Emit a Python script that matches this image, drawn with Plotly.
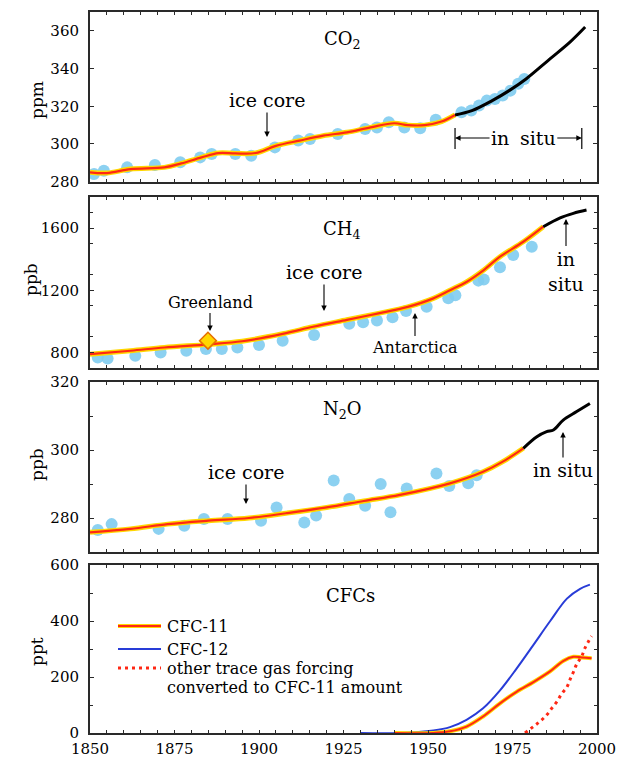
import plotly.graph_objects as go

# ---------------- data ----------------
# CO2 (ppm)
co2_core_year = [1851.2, 1854.1, 1861.0, 1869.2, 1876.7, 1882.6, 1886.0, 1893.0, 1897.7, 1904.7,
                 1911.6, 1915.1, 1923.3, 1931.4, 1934.9, 1938.4, 1943.0, 1947.7, 1952.3, 1959.9,
                 1962.8, 1965.1, 1967.4, 1969.8, 1972.1, 1974.4, 1976.7, 1978.5]
co2_core_ppm = [284.1, 285.8, 287.6, 288.8, 290.3, 292.9, 294.7, 294.7, 293.8, 298.2,
                301.8, 302.7, 305.3, 308.0, 308.8, 311.5, 308.8, 308.3, 312.9, 316.8,
                317.7, 320.4, 323.0, 323.9, 325.7, 328.3, 331.9, 334.5]
co2_fit_year = [1850, 1855, 1862, 1872, 1877, 1883, 1888, 1893, 1899, 1905, 1912, 1919, 1926,
                1933, 1940, 1944, 1949, 1954, 1958]
co2_fit_ppm = [285.0, 284.6, 286.7, 287.6, 289.7, 292.9, 295.2, 295.0, 295.2, 299.0, 301.8,
               304.4, 306.2, 308.8, 311.0, 310.0, 310.0, 311.9, 315.4]
co2_insitu_year = [1958, 1963, 1969, 1974, 1979, 1986, 1992, 1996.5]
co2_insitu_ppm = [315.4, 317.7, 323.0, 328.3, 334.5, 345.0, 354.0, 362.0]
insitu_span = [1958, 1995.5]

# CH4 (ppb)
ch4_core_year = [1852.3, 1855.2, 1863.4, 1870.9, 1878.5, 1884.3, 1889.0, 1893.6, 1900.0, 1907.0,
                 1916.3, 1926.7, 1930.8, 1934.9, 1939.5, 1943.5, 1949.6, 1956.0, 1958.1, 1964.9,
                 1966.5, 1971.3, 1975.2, 1980.7]
ch4_core_ppb = [768, 761, 778, 800, 811, 822, 822, 832, 848, 876,
                912, 984, 995, 1005, 1027, 1066, 1094, 1148, 1168, 1262,
                1270, 1348, 1427, 1480]
ch4_fit_year = [1850, 1862, 1872, 1885, 1895, 1907, 1916, 1926, 1935, 1944, 1951.6, 1956.5,
                1961.5, 1966.5, 1971.3, 1978.2, 1984.1]
ch4_fit_ppb = [789, 811, 832, 852, 872, 920, 965, 1010, 1050, 1093, 1148, 1200, 1255, 1330,
               1416, 1512, 1609]
ch4_insitu_year = [1984.1, 1989.1, 1993.0, 1996.9]
ch4_insitu_ppb = [1609, 1666, 1695, 1716]
greenland_year = [1884.9]
greenland_ppb = [876]

# N2O (ppb)
n2o_core_year = [1852.3, 1856.4, 1870.3, 1877.9, 1883.7, 1890.7, 1900.6, 1905.2, 1913.4, 1916.9,
                 1922.1, 1926.7, 1931.4, 1936.0, 1938.9, 1943.7, 1952.5, 1956.3, 1961.9, 1964.4]
n2o_core_ppb = [276.5, 278.2, 276.8, 277.7, 279.7, 279.7, 279.2, 283.1, 278.7, 280.7,
                291.0, 285.6, 283.6, 290.0, 281.7, 288.7, 293.1, 289.4, 290.2, 292.6]
n2o_fit_year = [1850, 1862, 1873, 1885, 1897, 1908, 1920, 1931, 1941.7, 1956.5, 1966.3, 1972,
                1978.2]
n2o_fit_ppb = [275.8, 276.8, 278.2, 279.2, 280.0, 281.4, 283.1, 285.0, 286.8, 290.2, 293.6,
               296.5, 300.5]
n2o_insitu_year = [1978.2, 1982.2, 1985.1, 1987.1, 1990.0, 1994.0, 1997.9]
n2o_insitu_ppb = [300.5, 303.9, 305.4, 305.9, 308.8, 311.3, 313.7]

# CFCs (ppt)
cfc12_year = [1930, 1941.7, 1951.6, 1956.5, 1961.4, 1966.3, 1971.3, 1976.2, 1981.2, 1986.1,
              1991.1, 1995.0, 1997.9]
cfc12_ppt = [0, 0, 9, 21, 47, 88, 152, 230, 315, 399, 480, 515, 530]
cfc11_year = [1940, 1951.6, 1956.5, 1961.4, 1966.3, 1971.3, 1976.2, 1981.2, 1986.1, 1990.1,
              1993.0, 1995.5, 1998.4]
cfc11_ppt = [0, 0, 6, 23, 59, 106, 147, 182, 220, 258, 272, 270, 267]
other_year = [1978.7, 1981.2, 1983.1, 1985.1, 1986.6, 1988.1, 1989.6, 1991.1, 1992.1, 1993.0,
              1994.0, 1995.5, 1996.5, 1998.4]
other_ppt = [0, 23, 41, 64, 88, 111, 141, 164, 193, 217, 246, 275, 305, 346]

year_ticks = list(range(1850, 2001, 5))
year_labels = [str(y) if y % 25 == 0 else "" for y in year_ticks]

# ---------------- styling ----------------
FONT = "DejaVu Serif"
DOT = "rgb(128,204,240)"
RED = "rgb(255,40,20)"
HALO = "rgb(255,215,0)"
BLUE = "rgb(40,60,215)"
W, H = 617, 759
ML, MR, MT, MB = 90, 20, 12, 26
PW, PH = W - ML - MR, H - MT - MB


def px(x):
    return (x - ML) / PW


def py(y):
    return (H - MB - y) / PH


fig = go.Figure()


def dots(x, y, ax):
    fig.add_trace(go.Scatter(x=x, y=y, mode="markers", xaxis=ax[0], yaxis=ax[1],
                             marker=dict(size=12, color=DOT, opacity=0.9),
                             showlegend=False, hoverinfo="skip"))


def red_line(x, y, ax, halo=5, core=2.2):
    fig.add_trace(go.Scatter(x=x, y=y, mode="lines", xaxis=ax[0], yaxis=ax[1],
                             line=dict(color=HALO, width=halo, shape="spline"),
                             showlegend=False, hoverinfo="skip"))
    fig.add_trace(go.Scatter(x=x, y=y, mode="lines", xaxis=ax[0], yaxis=ax[1],
                             line=dict(color=RED, width=core, shape="spline"),
                             showlegend=False, hoverinfo="skip"))


def black_line(x, y, ax):
    fig.add_trace(go.Scatter(x=x, y=y, mode="lines", xaxis=ax[0], yaxis=ax[1],
                             line=dict(color="black", width=3, shape="spline"),
                             showlegend=False, hoverinfo="skip"))


A1, A2, A3, A4 = ("x", "y"), ("x2", "y2"), ("x3", "y3"), ("x4", "y4")

# CO2 panel
dots(co2_core_year, co2_core_ppm, A1)
red_line(co2_fit_year, co2_fit_ppm, A1)
black_line(co2_insitu_year, co2_insitu_ppm, A1)

# CH4 panel
dots(ch4_core_year, ch4_core_ppb, A2)
red_line(ch4_fit_year, ch4_fit_ppb, A2)
black_line(ch4_insitu_year, ch4_insitu_ppb, A2)
fig.add_trace(go.Scatter(x=greenland_year, y=greenland_ppb, mode="markers", xaxis="x2", yaxis="y2",
                         marker=dict(symbol="diamond", size=13, color="rgb(255,215,0)",
                                     line=dict(color="rgb(230,110,0)", width=1.5)),
                         showlegend=False, hoverinfo="skip"))

# N2O panel
dots(n2o_core_year, n2o_core_ppb, A3)
red_line(n2o_fit_year, n2o_fit_ppb, A3)
black_line(n2o_insitu_year, n2o_insitu_ppb, A3)

# CFC panel
fig.add_trace(go.Scatter(x=cfc12_year, y=cfc12_ppt, mode="lines", xaxis="x4", yaxis="y4",
                         line=dict(color=BLUE, width=2, shape="spline"),
                         showlegend=False, hoverinfo="skip"))
red_line(cfc11_year, cfc11_ppt, A4, halo=4, core=2)
fig.add_trace(go.Scatter(x=other_year, y=other_ppt, mode="lines", xaxis="x4", yaxis="y4",
                         line=dict(color=RED, width=3, shape="spline", dash="3px,4px"),
                         showlegend=False, hoverinfo="skip"))

# ---------------- axes ----------------
domains = [[py(181.7), 1.0], [py(368), py(197)], [py(552), py(382)], [0.0, py(565)]]
ranges = [[280, 370], [700, 1800], [270, 320], [0, 600]]
ytickvals = [[280, 300, 320, 340, 360], [800, 1200, 1600], [280, 300, 320], [0, 200, 400, 600]]
yminor = [20, 200, 10, 100]

layout = dict(
    width=W, height=H, margin=dict(l=ML, r=MR, t=MT, b=MB, autoexpand=False),
    paper_bgcolor="white", plot_bgcolor="white",
    font=dict(family=FONT, size=15, color="black"),
    showlegend=False,
)
axis_line = dict(showline=True, linewidth=2, linecolor="#2a2a2a", mirror="ticks",
                 ticks="inside", tickcolor="#2a2a2a", showgrid=False, zeroline=False,
                 automargin=False)
for i in range(4):
    s = "" if i == 0 else str(i + 1)
    layout["xaxis" + s] = dict(
        axis_line, domain=[0, 1], range=[1850, 2000], anchor="y" + s,
        tickvals=year_ticks, ticktext=year_labels, ticklen=3, tickwidth=1,
        showticklabels=(i == 3), tickfont=dict(size=15), ticklabelstandoff=1,
        ticklabeloverflow="allow",
    )
    layout["yaxis" + s] = dict(
        axis_line, domain=domains[i], range=ranges[i], anchor="x" + s,
        tickvals=ytickvals[i], ticklen=4, tickwidth=1, tickfont=dict(size=15),
        ticklabelstandoff=6,
        minor=dict(dtick=yminor[i], tick0=ranges[i][0], ticks="inside", ticklen=3,
                   tickwidth=1, tickcolor="#2a2a2a", showgrid=False),
    )
fig.update_layout(**layout)

# ---------------- labels ----------------
ann = []


def text(t, x, y, size=19, xanchor="center", angle=0):
    ann.append(dict(text=t, x=px(x), y=py(y), xref="paper", yref="paper", showarrow=False,
                    xanchor=xanchor, yanchor="middle", textangle=angle,
                    font=dict(family=FONT, size=size, color="black")))


def pointer(t, xtip, ytip, dx, dy, size=19, xref="paper"):
    # label placed at (tip + offset) with an arrow running from the label to the tip
    ann.append(dict(text=t, x=(xtip if xref == "x" else px(xtip)), y=py(ytip),
                    xref=xref, yref="paper", showarrow=True, ax=dx, ay=dy,
                    arrowhead=2, arrowsize=1, arrowwidth=1.1, arrowcolor="black",
                    font=dict(family=FONT, size=size, color="black")))


# axis titles
text("ppm", 37, 100, 17, angle=-90)
text("ppb", 31, 280, 17, angle=-90)
text("ppb", 37, 465, 17, angle=-90)
text("ppt", 37, 652, 17, angle=-90)

# CO2 panel
text("CO<sub>2</sub>", 342, 40, 18)
pointer("ice core", 267, 137, 0, -37)
pointer("in", insitu_span[0], 138, 45, 0, xref="x")
pointer("situ", insitu_span[1], 138, -44, 0, xref="x")
shapes = []
for xs in insitu_span:
    shapes.append(dict(type="line", xref="x", yref="paper", x0=xs, x1=xs,
                       y0=py(128), y1=py(149), line=dict(color="black", width=1.2)))

# CH4 panel
text("CH<sub>4</sub>", 342, 230, 18)
pointer("ice core", 324, 311, 0, -39)
pointer("Greenland", 210, 331, 0, -29, size=16)
pointer("Antarctica", 415, 313, 0, 34, size=16)
pointer("in<br>situ", 566, 219, 0, 52)

# N2O panel
text("N<sub>2</sub>O", 342, 410, 18)
pointer("ice core", 246, 504, 0, -32)
pointer("in situ", 563, 432, 0, 38)

# CFC panel with its key
text("CFCs", 350, 595, 18)
key = [("CFC-11", 626, "cfc11"), ("CFC-12", 649, "cfc12"),
       ("other trace gas forcing", 668, "other")]
for label, yk, kind in key:
    seg = dict(type="line", xref="paper", yref="paper", x0=px(118), x1=px(161),
               y0=py(yk), y1=py(yk))
    if kind == "cfc11":
        shapes.append(dict(seg, line=dict(color=HALO, width=4)))
        shapes.append(dict(seg, line=dict(color=RED, width=2)))
    elif kind == "cfc12":
        shapes.append(dict(seg, line=dict(color=BLUE, width=2)))
    else:
        shapes.append(dict(seg, line=dict(color=RED, width=3, dash="3px,4px")))
    text(label, 165, yk, 16, xanchor="left")
text("converted to CFC-11 amount", 165, 687, 16, xanchor="left")

fig.update_layout(annotations=ann, shapes=shapes)
fig.write_html("out.html")
